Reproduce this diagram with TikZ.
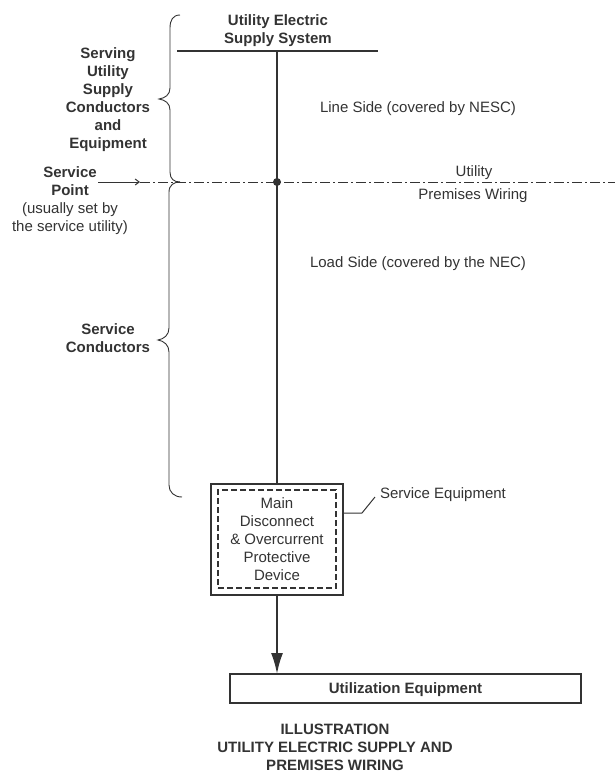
\documentclass[tikz,border=0pt]{standalone}
\usepackage{fontspec}
\setmainfont{Liberation Sans}
\usetikzlibrary{arrows.meta}
\definecolor{ink}{HTML}{333333}
\begin{document}
\begin{tikzpicture}[x=1pt,y=-1pt,
  every node/.style={inner sep=0pt,outer sep=0pt,text=ink,font=\fontsize{15}{18}\selectfont},
  bold/.style={font=\fontsize{15}{18}\selectfont\bfseries},
  wire/.style={draw=ink,line width=2pt},
  thin/.style={draw=ink,line width=1pt},
  bracepath/.style={draw=ink,line width=0.9pt},
  dashdot/.style={draw=ink,line width=1pt,dash pattern=on 10pt off 3pt on 2pt off 3pt},
  boxouter/.style={draw=ink,line width=2pt,minimum width=132pt,minimum height=111pt},
  boxinner/.style={draw=ink,line width=1.6pt,dash pattern=on 6pt off 3pt,minimum width=118pt,minimum height=98pt},
  utilbox/.style={draw=ink,line width=1.6pt,minimum width=351pt,minimum height=29pt}]
\useasboundingbox (0,0) rectangle (615,774);

% supply bus
\coordinate (busL) at (177,51);
\coordinate (busR) at (378,51);
\coordinate (busM) at (277,51);
\draw[wire] (busL) -- (busR);
\node[bold,align=center,anchor=north] (ues) at (278,14.3) {Utility Electric\\Supply System};

% service point
\node[circle,fill=ink,minimum size=8pt] (sp) at (277,182) {};
\coordinate (spArrS) at (98,182);
\coordinate (spArrE) at (140,182);
\coordinate (dashR) at (615,182);
\draw[thin,-{Straight Barb[length=4pt,width=6pt]}] (spArrS) -- (spArrE);
\draw[dashdot] (spArrE) -- (dashR);

% main disconnect box
\node[boxouter] (mdb) at (277,539.5) {};
\node[boxinner] (mdbi) at (277,539) {};
\node[align=center,anchor=north] (mdbt) at (277,497.3) {Main\\Disconnect\\\& Overcurrent\\Protective\\Device};
\draw[wire] (busM) -- (mdb.north);

% utilization equipment
\node[utilbox] (ue) at (405.5,688.5) {};
\node[bold,anchor=base] (uet) at (405.5,693) {Utilization Equipment};
\draw[wire,-{Latex[length=21pt,width=12pt]}] (mdb.south) -- (mdb.south |- ue.north);

% service equipment leader
\node[anchor=base west] (seq) at (380,498) {Service Equipment};
\coordinate (seqA) at (343,513);
\coordinate (seqB) at (362,513);
\coordinate (seqC) at (375,497);
\draw[thin] (seqA) -- (seqB) -- (seqC);

% side labels
\node[anchor=base west] (line) at (320,112) {Line Side (covered by NESC)};
\node[anchor=base west] (load) at (310,267) {Load Side (covered by the NEC)};
\node[anchor=base] (utl) at (474,176) {Utility};
\node[anchor=base] (prw) at (473,199) {Premises Wiring};

% left labels
\node[bold,align=center,anchor=north] (serving) at (108,47.3) {Serving\\Utility\\Supply\\Conductors\\and\\Equipment};
\node[align=center,anchor=north] (spt) at (70,166.3) {\textbf{Service}\\\textbf{Point}\\(usually set by\\the service utility)};
\node[bold,align=center,anchor=north] (scond) at (108,323.3) {Service\\Conductors};

% braces
\draw[bracepath] (180,15) .. controls (173,15) and (170,20) .. (170,28) -- (170,88)
  .. controls (170,95) and (165,98) .. (159,99)
  .. controls (165,100) and (170,103) .. (170,110) -- (170,172)
  .. controls (170,179) and (174,182) .. (180,182);
\draw[bracepath] (180,182) .. controls (174,182) and (169,185) .. (169,192) -- (169,328)
  .. controls (169,335) and (164,339) .. (158,340)
  .. controls (164,341) and (169,345) .. (169,352) -- (169,485)
  .. controls (169,492) and (174,497) .. (182,497);

% title
\node[bold,align=center,anchor=north] (title) at (335,724.3) {ILLUSTRATION\\UTILITY ELECTRIC SUPPLY AND\\PREMISES WIRING};
\end{tikzpicture}
\end{document}
